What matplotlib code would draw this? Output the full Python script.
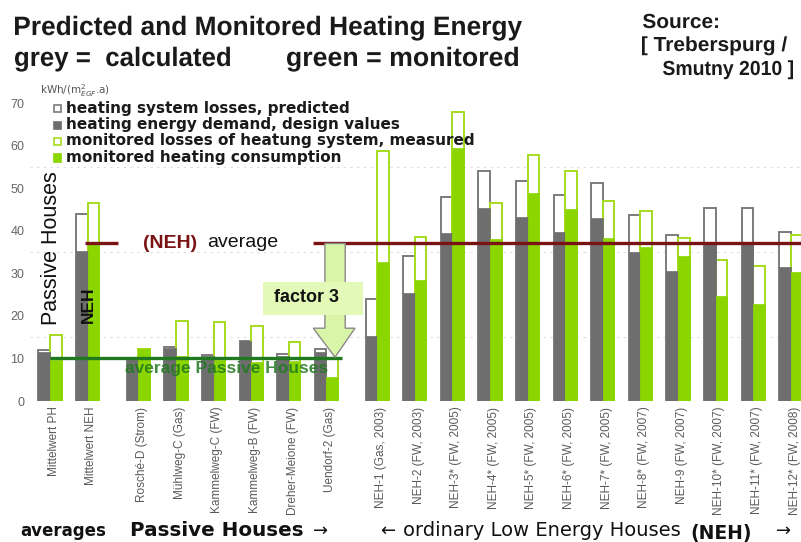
import matplotlib
matplotlib.use("Agg")
import matplotlib.pyplot as plt
from matplotlib.patches import Rectangle, Polygon, PathPatch
from matplotlib.textpath import TextPath
from matplotlib.font_manager import FontProperties
from matplotlib.transforms import Affine2D

# Werte (kWh/(m2 EGF.a))
labels = ["Mittelwert PH", "Mittelwert NEH", "Rosché-D (Strom)", "Mühlweg-C (Gas)",
          "Kammelweg-C (FW)", "Kammelweg-B (FW)", "Dreher-Meione (FW)", "Uendorf-2 (Gas)",
          "NEH-1 (Gas, 2003)", "NEH-2 (FW, 2003)", "NEH-3* (FW, 2005)", "NEH-4* (FW, 2005)",
          "NEH-5* (FW, 2005)", "NEH-6* (FW, 2005)", "NEH-7* (FW, 2005)", "NEH-8* (FW, 2007)",
          "NEH-9 (FW, 2007)", "NEH-10* (FW, 2007)", "NEH-11* (FW, 2007)", "NEH-12* (FW, 2008)"]
positions = [0, 1, 2.35, 3.35, 4.35, 5.35, 6.35, 7.35,
             8.7, 9.7, 10.7, 11.7, 12.7, 13.7, 14.7, 15.7, 16.7, 17.7, 18.7, 19.7]
pred_total = [12.0, 43.9, 9.6, 12.7, 10.8, 14.2, 11.0, 12.2,
              23.9, 34.1, 48.0, 54.1, 51.7, 48.4, 51.3, 43.7, 39.0, 45.4, 45.4, 39.6]
design = [11.4, 35.3, 9.6, 12.4, 10.5, 14.0, 10.6, 11.6,
          15.3, 25.4, 39.4, 45.4, 43.3, 39.6, 43.0, 34.9, 30.6, 36.8, 36.8, 31.4]
mon_total = [15.5, 46.5, 12.2, 18.9, 18.5, 17.6, 13.8, 9.8,
             58.8, 38.6, 67.9, 46.6, 57.7, 54.1, 46.9, 44.7, 38.3, 33.2, 31.7, 39.0]
monitored = [9.6, 36.8, 12.2, 10.6, 9.6, 9.2, 9.5, 5.7,
             32.7, 28.4, 59.5, 38.0, 48.9, 45.2, 38.2, 36.2, 34.1, 24.6, 22.9, 30.4]
avg_neh = 37.0
avg_ph = 10.0

W, H = 801, 542
GREY = "#6e6e6e"
GREY_EDGE = "#7c7c7c"
GREEN = "#8cd600"
GREEN_EDGE = "#a6dc1e"
DARKRED = "#7a1414"
DARKGREEN = "#1f7a1f"
ARIAL = ["Liberation Sans", "DejaVu Sans"]


def fx(px):
    return px / W


def fy(py):
    return 1 - py / H


fig = plt.figure(figsize=(W / 100, H / 100), dpi=100)
fig.patch.set_facecolor("white")


def narrow_text(s, x0, x1, baseline, cap, weight="bold", color="#1a1a1a"):
    # schmale Schrift (wie Arial Narrow) ueber einen gestauchten Textpfad
    fp = FontProperties(family="Liberation Sans", weight=weight)
    tp = TextPath((0, 0), s, size=1, prop=fp)
    capref = TextPath((0, 0), "H", size=1, prop=fp).get_extents().height
    ext = tp.get_extents()
    sy = cap / capref
    sx = (x1 - x0) / ext.width
    tr = (Affine2D().translate(-ext.x0, 0).scale(sx / W, sy / H)
          .translate(x0 / W, 1 - baseline / H) + fig.transFigure)
    fig.add_artist(PathPatch(tp, transform=tr, facecolor=color, edgecolor="none"))


ax = fig.add_axes([fx(30), fy(401), 1 - fx(30), (401 - 103) / H])

bw = 0.31
xg = [p - bw / 2 for p in positions]
xm = [p + bw / 2 for p in positions]

ax.bar(xg, pred_total, width=bw, color="white", edgecolor=GREY_EDGE, linewidth=1.4, zorder=2)
ax.bar(xg, design, width=bw, color=GREY, edgecolor=GREY, linewidth=0.5, zorder=3)
ax.bar(xm, mon_total, width=bw, color="white", edgecolor=GREEN_EDGE, linewidth=1.4, zorder=2)
ax.bar(xm, monitored, width=bw, color=GREEN, edgecolor=GREEN, linewidth=0.5, zorder=3)

ax.set_xlim(-0.532, 19.97)
ax.set_ylim(0, 70)
for s in ax.spines.values():
    s.set_visible(False)
ax.set_yticks(range(0, 71, 10))
ax.tick_params(axis="y", length=0, pad=4, labelsize=9, labelcolor="#666666")
for t in ax.get_yticklabels():
    t.set_family(ARIAL)
ax.set_xticks([p + 0.1 for p in positions])
ax.set_xticklabels(labels, rotation=90, fontsize=8.5, color="#5a5a5a", va="top", family=ARIAL)
ax.tick_params(axis="x", length=0, pad=4)
for g in [15, 35, 55]:
    ax.axhline(g, color="#dddddd", lw=0.8, ls=(0, (2, 4)), zorder=1)

# Mittelwert-Linien
ax.plot([0.93, 1.81], [avg_neh, avg_neh], color=DARKRED, lw=2.4, zorder=5, solid_capstyle="butt")
ax.plot([7.0, 20.0], [avg_neh, avg_neh], color=DARKRED, lw=2.4, zorder=5, solid_capstyle="butt")
ax.plot([0.0, 7.77], [avg_ph, avg_ph], color=DARKGREEN, lw=2.4, zorder=6, solid_capstyle="butt")

# Pfeil "factor 3"
arrow = Polygon([(7.31, avg_neh), (7.85, avg_neh), (7.85, 17.1), (8.11, 17.1),
                 (7.58, 10.3), (7.0, 17.1), (7.31, 17.1)],
                closed=True, facecolor="#d9f5a8", edgecolor="#8a8a8a", lw=1.0, zorder=7)
ax.add_patch(arrow)
ax.add_patch(Rectangle((5.66, 20.2), 2.66, 7.7, facecolor="#e2f9b8", edgecolor="none", zorder=8))
ax.text(6.81, 24.2, "factor 3", fontsize=13, fontweight="bold", ha="center", va="center",
        color="#111111", family=ARIAL, zorder=9)

ax.text(2.47, avg_neh, "(NEH)", fontsize=14, fontweight="bold", color=DARKRED, ha="left",
        va="center", family=ARIAL, zorder=9)
ax.text(4.18, avg_neh + 0.3, "average", fontsize=14, color="#111111", ha="left", va="center",
        family=ARIAL, zorder=9)
ax.text(2.0, 7.7, "average Passive Houses", fontsize=12.5, fontweight="bold", color=DARKGREEN,
        alpha=0.85, ha="left", va="center", family=ARIAL, zorder=9)
ax.text(0.03, 36.0, "Passive Houses", fontsize=15.5, rotation=90, ha="center", va="center",
        color="#111111", family=ARIAL, zorder=9)
ax.text(1.01, 22.5, "NEH", fontsize=12.5, fontweight="bold", rotation=90, ha="center", va="center",
        color="#111111", family=ARIAL, zorder=9)

# Titel und Quelle
narrow_text("Predicted and Monitored Heating Energy", 15, 522, 35, 18.3)
narrow_text("grey =  calculated", 15, 230, 66, 18.3)
narrow_text("green = monitored", 287, 518, 66, 18.3)
narrow_text("Source:", 643, 718, 28, 14)
narrow_text("[ Treberspurg /", 642, 787, 51, 14)
narrow_text("Smutny 2010 ]", 663, 793, 75, 14)
fig.text(fx(40), fy(91), r"kWh/(m$^2_{EGF}$.a)", fontsize=7.5, color="#555555", va="center")

# Legende
leg_items = [("heating system losses, predicted", "white", GREY_EDGE),
             ("heating energy demand, design values", GREY, GREY),
             ("monitored losses of heatung system, measured", "white", GREEN_EDGE),
             ("monitored heating consumption", GREEN, GREEN)]
for i, (txt, fc, ec) in enumerate(leg_items):
    yc = 108 + i * 16.5
    fig.add_artist(Rectangle((fx(54), fy(yc + 4)), 7 / W, 7 / H, transform=fig.transFigure,
                             facecolor=fc, edgecolor=ec, lw=1.2))
    fig.text(fx(66), fy(yc), txt, fontsize=11, fontweight="bold", va="center", ha="left",
             color="#1a1a1a")

# Gruppenbeschriftung unten
fig.text(fx(20), fy(531), "averages", fontsize=12, fontweight="bold", va="center", color="#111111")
fig.text(fx(130), fy(531), "Passive Houses", fontsize=14.3, fontweight="bold", va="center", color="#111111")
fig.text(fx(313), fy(531), "\u2192", fontsize=13, va="center", color="#111111")
fig.text(fx(380), fy(531), "\u2190", fontsize=13, va="center", color="#111111")
fig.text(fx(403), fy(531), "ordinary Low Energy Houses", fontsize=14, va="center", color="#111111")
fig.text(fx(690), fy(534), "(NEH)", fontsize=13.5, fontweight="bold", va="center", color="#111111")
fig.text(fx(776), fy(531), "\u2192", fontsize=13, va="center", color="#111111")

fig.savefig("out.png", dpi=100, facecolor="white")
